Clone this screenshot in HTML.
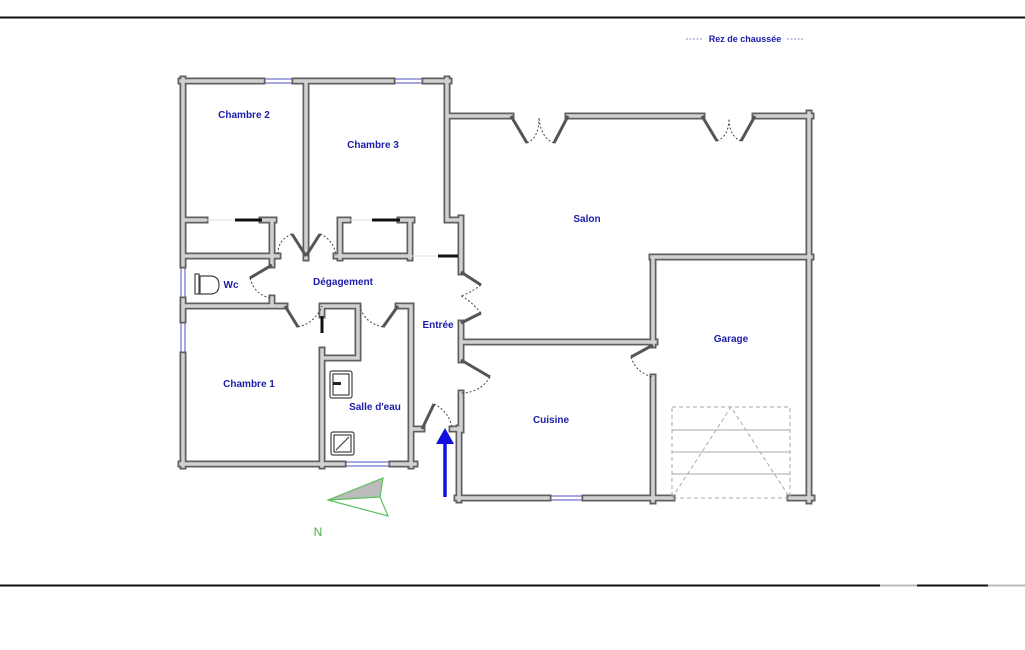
<!DOCTYPE html>
<html><head><meta charset="utf-8"><style>
html,body{margin:0;padding:0;background:#fff;width:1025px;height:650px;overflow:hidden}
svg{display:block}
text{font-family:"Liberation Sans",sans-serif;font-weight:bold;font-size:10px;fill:#1c1ca8;text-anchor:middle}
</style></head><body>
<svg width="1025" height="650" viewBox="0 0 1025 650" xmlns="http://www.w3.org/2000/svg">
<line x1="0" y1="17.5" x2="1025" y2="17.5" stroke="#111" stroke-width="2"/>
<line x1="0" y1="585.5" x2="880" y2="585.5" stroke="#111" stroke-width="2"/>
<line x1="880" y1="585.5" x2="917" y2="585.5" stroke="#bbb" stroke-width="2"/>
<line x1="917" y1="585.5" x2="988" y2="585.5" stroke="#111" stroke-width="2"/>
<line x1="988" y1="585.5" x2="1025" y2="585.5" stroke="#bbb" stroke-width="2"/>

<!-- windows -->
<g stroke="#8a8ad8" stroke-width="1.5" fill="none">
<path d="M262 79H295M262 83H295M392 79H425M392 83H425M181 265V300M185 265V300M181 320V355M185 355V320M343 462H392M343 466H392M548 496H585M548 500H585"/>
</g>

<g fill="none" stroke-linecap="square">
<path id="w" stroke="#606060" stroke-width="7" d="
M183 79V265M183 300V320M183 355V466
M181 81H262M295 81H392M425 81H449
M447 79V220M447 116H511M568 116H702M755 116H811
M809 113V501
M652 257H811M653 257V345M653 377V501
M652 498H672M790 498H812
M459 428V500M457 498H548M585 498H672
M461 342H655
M447 220H461M461 218V272M461 323V360M461 393V430M452 429H461M412 429H422
M410 220V258
M340 220H348M400 220H412M340 220V258
M183 220H205M262 220H274M272 220V258
M306 81V258
M183 256H272M272 256H278M336 256H410
M272 256V265M272 298V306
M183 306H285M322 306H358M398 306H411M411 306V466
M322 306V315M322 350V466M322 358H358M358 306V358
M181 464H343M392 464H415"/>
<path stroke="#d2d2d2" stroke-width="3.5" d="
M183 79V265M183 300V320M183 355V466
M181 81H262M295 81H392M425 81H449
M447 79V220M447 116H511M568 116H702M755 116H811
M809 113V501
M652 257H811M653 257V345M653 377V501
M652 498H672M790 498H812
M459 428V500M457 498H548M585 498H672
M461 342H655
M447 220H461M461 218V272M461 323V360M461 393V430M452 429H461M412 429H422
M410 220V258
M340 220H348M400 220H412M340 220V258
M183 220H205M262 220H274M272 220V258
M306 81V258
M183 256H272M272 256H278M336 256H410
M272 256V265M272 298V306
M183 306H285M322 306H358M398 306H411M411 306V466
M322 306V315M322 350V466M322 358H358M358 306V358
M181 464H343M392 464H415"/>
</g>
<!-- black closet bars -->
<g stroke="#111" stroke-width="3">
<path d="M235 220H262M372 220H400M438 256H458M322 316V333"/>
</g>
<g stroke="#ddd" stroke-width="1"><path d="M205 220H235M348 220H372M410 256H438"/></g>

<!-- door leaves -->
<g stroke="#555" stroke-width="3" fill="none">
<path d="M511 116L527 143M568 116L554 143M702 116L717 141M755 116L741 141
M461 272L481 285M461 323L481 313M461 360L490 377M653 345L631 357
M306 256L292 234M306 256L320 234
M272 265L250 278M285 306L298 327M398 306L383 327
M422 429L434 404"/>
</g>
<g stroke="#444" stroke-width="1" stroke-dasharray="2,2" fill="none">
<path d="M527 143Q539 138 539 118M554 143Q541 138 539 118M717 141Q729 136 729 118M741 141Q729 136 729 118
M481 285Q470 293 461 296M481 313Q470 300 461 296M490 377Q480 393 461 393M631 357Q636 373 653 377
M292 234Q277 240 278 256M320 234Q334 240 336 256M250 278Q255 296 272 298M298 327Q315 323 322 306M383 327Q364 323 360 306M434 404Q450 412 452 429"/>
</g>

<!-- fixtures -->
<g fill="none" stroke="#444" stroke-width="1.2">
<rect x="330" y="371" width="22" height="27" rx="2"/><rect x="333" y="374" width="16" height="21"/>
<rect x="331" y="432" width="23" height="23" rx="2"/><rect x="334" y="435" width="17" height="17"/>
<line x1="336" y1="450" x2="349" y2="437"/>
<rect x="195" y="274" width="4" height="20"/>
<path d="M200 276H210Q219 276 219 285Q219 294 210 294H200Z"/>
</g>
<rect x="333" y="382" width="8" height="3" fill="#222"/>

<!-- garage door -->
<g fill="none" stroke="#aaa" stroke-width="1">
<rect x="672" y="407" width="118" height="91" stroke-dasharray="4,3"/>
<path d="M672 430H790M672 452H790M672 474H790"/>
<path d="M672 498L731 407L790 498" stroke-dasharray="4,3"/>
</g>

<!-- arrow -->
<line x1="445" y1="497" x2="445" y2="440" stroke="#1010e0" stroke-width="3.5"/>
<polygon points="436,444 454,444 445,428" fill="#1010e0"/>

<!-- compass -->
<polygon points="328,500 383,478 380,497" fill="#bbb"/>
<polygon points="328,500 383,478 380,497 388,516" fill="none" stroke="#5cc05c" stroke-width="1.2"/>
<line x1="328" y1="500" x2="380" y2="497" stroke="#5cc05c" stroke-width="1.2"/>
<text x="318" y="536" style="fill:#4cb04c;font-weight:normal;font-size:12px">N</text>

<text x="244" y="118">Chambre 2</text>
<text x="373" y="148">Chambre 3</text>
<text x="231" y="288">Wc</text>
<text x="343" y="285">Dégagement</text>
<text x="438" y="328">Entrée</text>
<text x="249" y="387">Chambre 1</text>
<text x="375" y="410">Salle d'eau</text>
<text x="587" y="222">Salon</text>
<text x="731" y="342">Garage</text>
<text x="551" y="423">Cuisine</text>
<text x="745" y="42" style="font-size:9px">Rez de chaussée</text>
<path d="M686 39H703M787 39H804" stroke="#8888cc" stroke-width="1" stroke-dasharray="2,1.5"/>
</svg>
</body></html>
